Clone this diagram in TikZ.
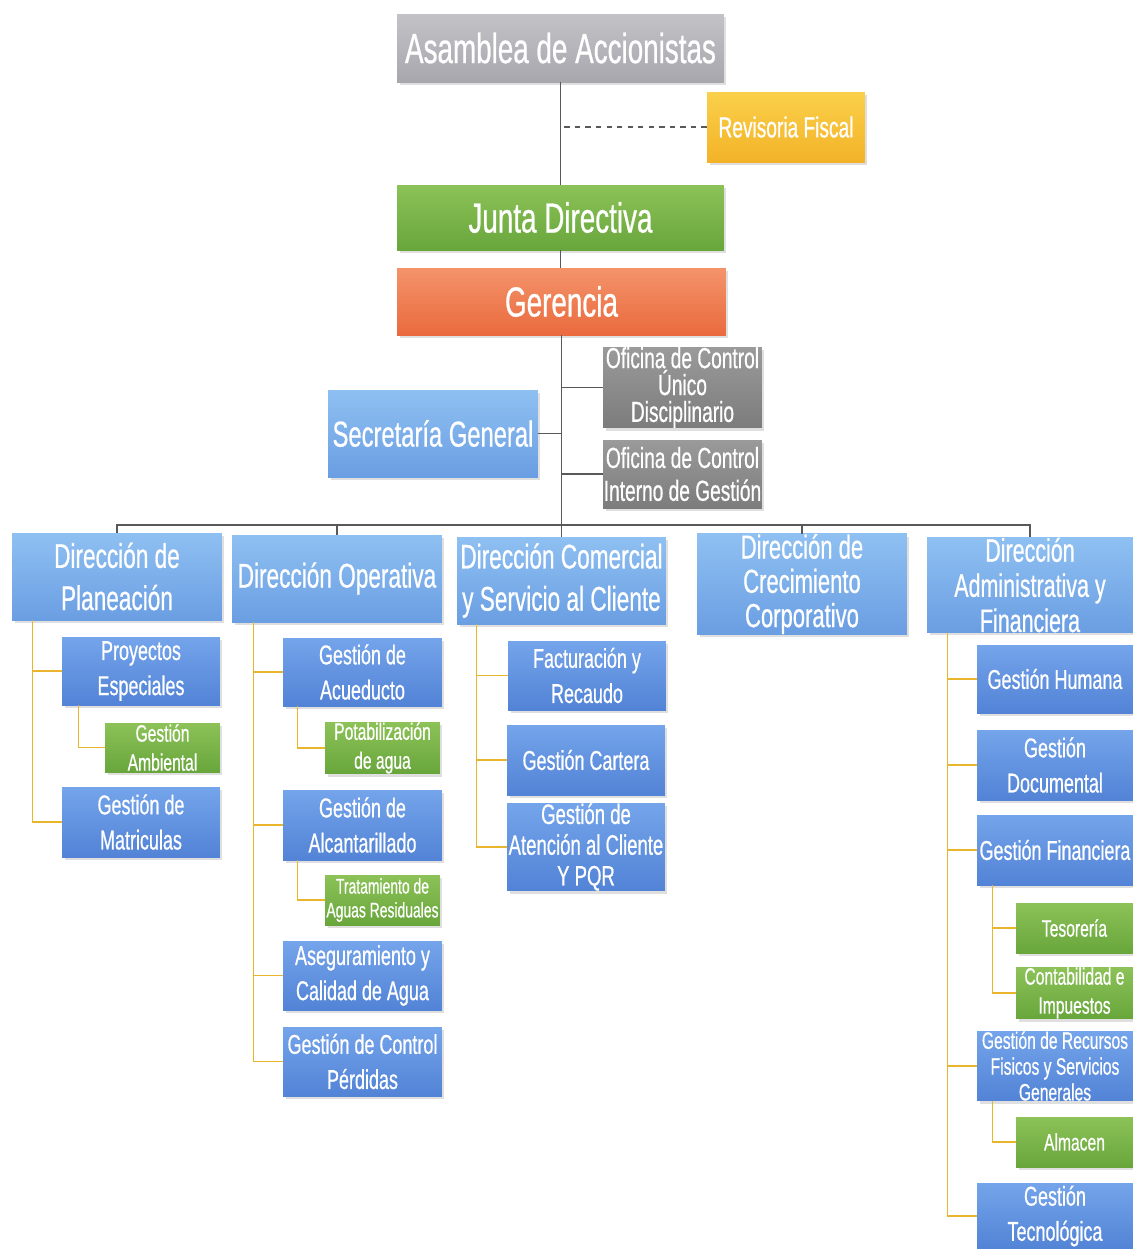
\documentclass[tikz,border=0pt]{standalone}
\usepackage{fontspec}
\setmainfont{Liberation Sans}[FakeStretch=0.66, FakeBold=0.6]
\usetikzlibrary{shadows}
\definecolor{asamT}{HTML}{C2C2C7}\definecolor{asamB}{HTML}{A7A7AD}
\definecolor{ofiT}{HTML}{9A9A9A}\definecolor{ofiB}{HTML}{7C7C7C}
\definecolor{ylwT}{HTML}{FAD04A}\definecolor{ylwB}{HTML}{F3B328}
\definecolor{grnT}{HTML}{8CC257}\definecolor{grnB}{HTML}{68A63C}
\definecolor{orgT}{HTML}{F4936A}\definecolor{orgB}{HTML}{EA6A3E}
\definecolor{dirT}{HTML}{8FC0F2}\definecolor{dirB}{HTML}{6A9EE2}
\definecolor{chT}{HTML}{74A4EA}\definecolor{chB}{HTML}{5283D6}
\definecolor{lineY}{HTML}{E8B52C}
\tikzset{
  box/.style={rectangle, inner sep=0pt, align=center, text=white,
    drop shadow={opacity=0.25, shadow xshift=0.05cm, shadow yshift=-0.06cm}},
  topbox/.style={box, font=\fontsize{24}{28}\selectfont},
  asamstyle/.style={topbox, top color=asamT, bottom color=asamB},
  juntastyle/.style={topbox, top color=grnT, bottom color=grnB},
  gerstyle/.style={topbox, top color=orgT, bottom color=orgB},
  revstyle/.style={box, top color=ylwT, bottom color=ylwB, font=\fontsize{16.5}{20}\selectfont},
  ofistyle/.style={box, top color=ofiT, bottom color=ofiB, font=\fontsize{16.5}{18.7}\selectfont},
  dirstyle/.style={box, top color=dirT, bottom color=dirB, font=\fontsize{19.5}{24}\selectfont},
  chstyle/.style={box, top color=chT, bottom color=chB, font=\fontsize{15.5}{20}\selectfont},
  grnstyle/.style={box, top color=grnT, bottom color=grnB, font=\fontsize{13.5}{16.5}\selectfont},
  conn/.style={draw=black!65, line width=0.6pt},
  ylw/.style={draw=lineY, line width=0.9pt},
}
\begin{document}
\begin{tikzpicture}[x=0.02cm, y=-0.02cm]
\useasboundingbox[fill=white] (0,0) rectangle (1133,1249);

% top level
\node[asamstyle, minimum width=6.54cm, minimum height=1.36cm] (asam) at (560.5,48) {Asamblea de Accionistas};
\node[revstyle, minimum width=3.16cm, minimum height=1.4cm] (revi) at (786,127) {Revisoria Fiscal};
\node[juntastyle, minimum width=6.54cm, minimum height=1.3cm] (junta) at (560.5,217.5) {Junta Directiva};
\node[gerstyle, minimum width=6.58cm, minimum height=1.34cm] (ger) at (561.5,301.5) {Gerencia};
\node[ofistyle, minimum width=3.18cm, minimum height=1.5cm, font=\fontsize{16.5}{15.3}\selectfont] (ofu) at (682.5,387.5) {Oficina de Control\\Único\\Disciplinario};
\node[dirstyle, minimum width=4.2cm, minimum height=1.74cm, font=\fontsize{20.5}{24}\selectfont] (sec) at (433,433.5) {Secretaría General};
\node[ofistyle, minimum width=3.18cm, minimum height=1.36cm] (ofi) at (682.5,474) {Oficina de Control\\Interno de Gestión};

% direcciones
\node[dirstyle, minimum width=4.2cm, minimum height=1.74cm] (plan) at (117,576.5) {Dirección de\\Planeación};
\node[dirstyle, minimum width=4.2cm, minimum height=1.74cm] (oper) at (337,578.5) {Dirección Operativa};
\node[dirstyle, minimum width=4.18cm, minimum height=1.74cm] (com) at (561.5,580.5) {Dirección Comercial\\y Servicio al Cliente};
\node[dirstyle, minimum width=4.2cm, minimum height=1.76cm, font=\fontsize{19}{19.5}\selectfont] (crec) at (802,584) {Dirección de\\Crecimiento\\Corporativo};
\node[dirstyle, minimum width=4.12cm, minimum height=1.8cm, font=\fontsize{18.5}{20}\selectfont] (adm) at (1030,585) {Dirección\\Administrativa y\\Financiera};

% planeacion children
\node[chstyle, minimum width=3.16cm, minimum height=1.36cm] (proy) at (141,671) {Proyectos\\Especiales};
\node[grnstyle, minimum width=2.3cm, minimum height=0.98cm] (amb) at (162.5,747.5) {Gestión\\Ambiental};
\node[chstyle, minimum width=3.16cm, minimum height=1.4cm] (matr) at (141,822) {Gestión de\\Matriculas};

% operativa children
\node[chstyle, minimum width=3.18cm, minimum height=1.36cm] (acue) at (362.5,672) {Gestión de\\Acueducto};
\node[grnstyle, minimum width=2.3cm, minimum height=1.0cm] (pota) at (382.5,748) {Potabilización\\de agua};
\node[chstyle, minimum width=3.18cm, minimum height=1.4cm] (alca) at (362.5,825) {Gestión de\\Alcantarillado};
\node[grnstyle, minimum width=2.3cm, minimum height=1.0cm, font=\fontsize{12}{13.6}\selectfont] (trat) at (382.5,900) {Tratamiento de\\Aguas Residuales};
\node[chstyle, minimum width=3.18cm, minimum height=1.38cm] (aseg) at (362.5,975.5) {Aseguramiento y\\Calidad de Agua};
\node[chstyle, minimum width=3.18cm, minimum height=1.38cm] (perd) at (362.5,1061.5) {Gestión de Control\\Pérdidas};

% comercial children
\node[chstyle, minimum width=3.16cm, minimum height=1.38cm] (fact) at (587,675.5) {Facturación y\\Recaudo};
\node[chstyle, minimum width=3.16cm, minimum height=1.4cm] (cart) at (586,760) {Gestión Cartera};
\node[chstyle, minimum width=3.16cm, minimum height=1.4cm, font=\fontsize{16}{17.5}\selectfont] (aten) at (586,847) {Gestión de\\Atención al Cliente\\Y PQR};

% administrativa children
\node[chstyle, minimum width=3.12cm, minimum height=1.36cm] (hum) at (1055,679) {Gestión Humana};
\node[chstyle, minimum width=3.12cm, minimum height=1.4cm] (doc) at (1055,765) {Gestión\\Documental};
\node[chstyle, minimum width=3.12cm, minimum height=1.4cm] (fin) at (1055,850) {Gestión Financiera};
\node[grnstyle, minimum width=2.34cm, minimum height=1.0cm] (tes) at (1074.5,928) {Tesorería};
\node[grnstyle, minimum width=2.34cm, minimum height=1.0cm] (cont) at (1074.5,993) {Contabilidad e\\Impuestos};
\node[chstyle, minimum width=3.12cm, minimum height=1.36cm, font=\fontsize{13.5}{14.7}\selectfont] (recu) at (1055,1066) {Gestión de Recursos\\Fisicos y Servicios\\Generales};
\node[grnstyle, minimum width=2.34cm, minimum height=1.0cm] (alm) at (1074.5,1142) {Almacen};
\node[chstyle, minimum width=3.12cm, minimum height=1.32cm] (tec) at (1055,1216) {Gestión\\Tecnológica};

% top connectors
\draw[conn] (asam.south) -- (junta.north);
\draw[conn, dashed] (revi.west) -- (revi.west -| asam.south);
\draw[conn] (junta.south) -- (junta.south |- ger.north);
\draw[conn] (ger.south) -- (ger.south |- com.north);
\draw[conn] (ofu.west) -- (ofu.west -| ger.south);
\draw[conn] (sec.east) -- (sec.east -| ger.south);
\draw[conn] (ofi.west) -- (ofi.west -| ger.south);
\coordinate (bus) at (560,525);
\draw[conn] (plan.north) -- (plan.north |- bus) -| (adm.north);
\draw[conn] (oper.north) -- (oper.north |- bus);
\draw[conn] (crec.north) -- (crec.north |- bus);

% yellow connectors
\draw[ylw] ([xshift=0.42cm]plan.south west) |- (proy.west);
\draw[ylw] ([xshift=0.42cm]plan.south west) |- (matr.west);
\draw[ylw] ([xshift=0.34cm]proy.south west) |- (amb.west);

\draw[ylw] ([xshift=0.44cm]oper.south west) |- (acue.west);
\draw[ylw] ([xshift=0.44cm]oper.south west) |- (alca.west);
\draw[ylw] ([xshift=0.44cm]oper.south west) |- (aseg.west);
\draw[ylw] ([xshift=0.44cm]oper.south west) |- (perd.west);
\draw[ylw] ([xshift=0.3cm]acue.south west) |- (pota.west);
\draw[ylw] ([xshift=0.3cm]alca.south west) |- (trat.west);

\draw[ylw] ([xshift=0.4cm]com.south west) |- (fact.west);
\draw[ylw] ([xshift=0.4cm]com.south west) |- (cart.west);
\draw[ylw] ([xshift=0.4cm]com.south west) |- (aten.west);

\draw[ylw] ([xshift=0.42cm]adm.south west) |- (hum.west);
\draw[ylw] ([xshift=0.42cm]adm.south west) |- (doc.west);
\draw[ylw] ([xshift=0.42cm]adm.south west) |- (fin.west);
\draw[ylw] ([xshift=0.42cm]adm.south west) |- (recu.west);
\draw[ylw] ([xshift=0.42cm]adm.south west) |- (tec.west);
\draw[ylw] ([xshift=0.32cm]fin.south west) |- (tes.west);
\draw[ylw] ([xshift=0.32cm]fin.south west) |- (cont.west);
\draw[ylw] ([xshift=0.32cm]recu.south west) |- (alm.west);
\end{tikzpicture}
\end{document}
